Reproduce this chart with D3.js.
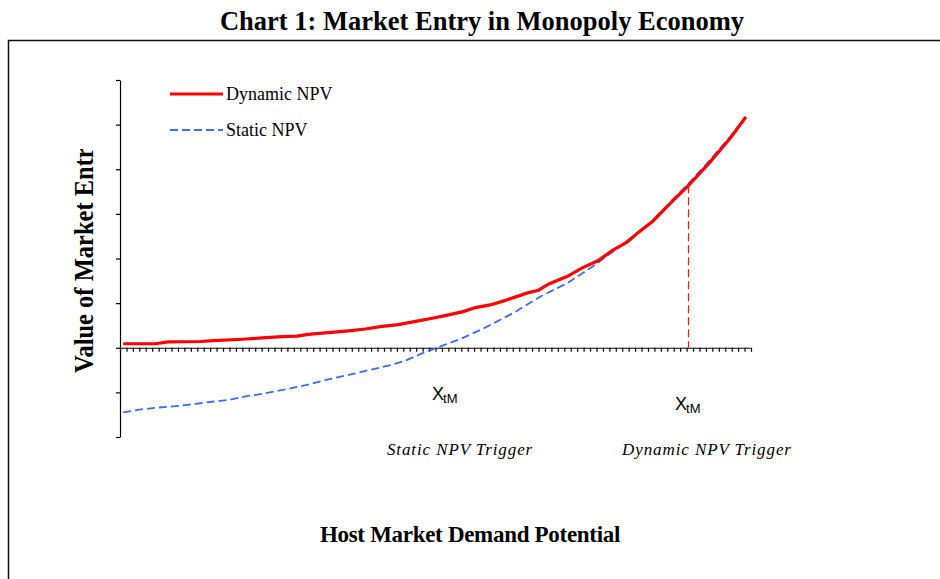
<!DOCTYPE html>
<html>
<head>
<meta charset="utf-8">
<script src="https://cdn.jsdelivr.net/npm/d3@7"></script>
<style>
  body { margin: 0; background: #fff; }
  svg { display: block; }
</style>
</head>
<body>
<svg id="chart" width="940" height="579"></svg>
<script>
// demand categories on the x axis (98 category slots)
var categoryCount = 98;

// dynamic NPV: [category, value]
var dynamicNPV = [
  [1, 0.09], [6, 0.09], [8, 0.13], [13, 0.14], [15, 0.16], [19.5, 0.19],
  [22.6, 0.22], [25.7, 0.25], [28, 0.26], [29.7, 0.30], [32.8, 0.34],
  [36, 0.38], [38.6, 0.42], [41.2, 0.48], [43.7, 0.52], [46.4, 0.59],
  [49, 0.66], [51, 0.72], [53.8, 0.81], [55.7, 0.90], [58, 0.96],
  [60.1, 1.05], [63.8, 1.23], [65.5, 1.29], [67.1, 1.43], [70, 1.60],
  [72.3, 1.79], [74.7, 1.95], [77, 2.18], [79.3, 2.37], [80.9, 2.57],
  [83.2, 2.83], [86, 3.24], [88.8, 3.64], [91.9, 4.12], [95.3, 4.70],
  [97.7, 5.17]
];

// static NPV: [category, value]
var staticNPV = [
  [1, -1.45], [3.3, -1.39], [6.4, -1.34], [9.1, -1.31], [12.2, -1.26],
  [14.8, -1.21], [17.3, -1.17], [20.4, -1.08], [23.1, -1.02], [26.6, -0.92],
  [29.3, -0.84], [32.8, -0.71], [36, -0.61], [38.6, -0.52], [42.2, -0.40],
  [44.8, -0.29], [47.5, -0.12], [49, -0.04], [51, 0.07], [53.1, 0.18],
  [56.5, 0.40], [61.6, 0.78], [65.8, 1.15], [70, 1.45], [74.1, 1.84],
  [77.2, 2.17], [79.8, 2.46], [83.2, 2.84], [86, 3.27], [88.8, 3.68],
  [91.9, 4.17], [95.3, 4.74], [97.7, 5.17]
];

// y ticks (no labels shown in the original)
var yTicks = [-2, -1, 0, 1, 2, 3, 4, 5, 6];

// trigger points
var dynamicTrigger = 88.8;
var staticTrigger = 48.8;

var serif = '"Liberation Serif", "Times New Roman", serif';
var svg = d3.select('#chart');

var x = d3.scaleLinear()
  .domain([0.5, categoryCount + 0.5])
  .range([120, 751]);

var y = d3.scaleLinear()
  .domain([-2, 6])
  .range([437, 80]);

// outer frame
svg.append('rect')
  .attr('x', 8.5)
  .attr('y', 40.5)
  .attr('width', 960)
  .attr('height', 560)
  .attr('fill', 'none')
  .attr('stroke', '#111')
  .attr('stroke-width', 1.5);

// title
svg.append('text')
  .attr('x', 482)
  .attr('y', 30)
  .attr('text-anchor', 'middle')
  .attr('font-family', serif)
  .attr('font-weight', 'bold')
  .attr('font-size', '26.5px')
  .text('Chart 1: Market Entry in Monopoly Economy');

// y axis
svg.append('g')
  .attr('transform', 'translate(120,0)')
  .call(d3.axisLeft(y)
    .tickValues(yTicks)
    .tickSize(4)
    .tickSizeOuter(0)
    .tickFormat(''))
  .call(g => g.selectAll('line, path').attr('stroke', '#000').attr('stroke-width', 1.2));

// x axis on the zero line, ticks between categories
svg.append('g')
  .attr('transform', 'translate(0,' + y(0) + ')')
  .call(d3.axisBottom(x)
    .tickValues(d3.range(0.5, categoryCount + 1, 1))
    .tickSize(4)
    .tickSizeOuter(0)
    .tickFormat(''))
  .call(g => g.selectAll('line, path').attr('stroke', '#000').attr('stroke-width', 1.2));

var line = d3.line()
  .x(function(d) { return x(d[0]); })
  .y(function(d) { return y(d[1]); });

svg.append('path')
  .datum(staticNPV)
  .attr('d', line)
  .attr('fill', 'none')
  .attr('stroke', '#3a6cf4')
  .attr('stroke-width', 1.8)
  .attr('stroke-dasharray', '8,4');

svg.append('path')
  .datum(dynamicNPV)
  .attr('d', line)
  .attr('fill', 'none')
  .attr('stroke', '#ff0000')
  .attr('stroke-width', 3.2);

// dynamic trigger drop line
svg.append('line')
  .attr('x1', x(dynamicTrigger))
  .attr('x2', x(dynamicTrigger))
  .attr('y1', y(3.64))
  .attr('y2', y(0))
  .attr('stroke', '#e02020')
  .attr('stroke-width', 1.3)
  .attr('stroke-dasharray', '8,4');

// X_tM labels
function xLabel(lx, ly) {
  var t = svg.append('text')
    .attr('x', lx)
    .attr('y', ly)
    .attr('font-family', '"Liberation Sans", Arial, sans-serif')
    .attr('font-size', '18px');
  t.append('tspan').text('X');
  t.append('tspan')
    .attr('font-size', '13px')
    .attr('dx', -1)
    .attr('dy', 3)
    .text('tM');
}
xLabel(432, 400);
xLabel(675, 410);

// trigger captions
svg.append('text')
  .attr('x', 460)
  .attr('y', 455)
  .attr('text-anchor', 'middle')
  .attr('font-family', serif)
  .attr('font-style', 'italic')
  .attr('font-size', '17px')
  .attr('letter-spacing', '0.9px')
  .text('Static NPV Trigger');

svg.append('text')
  .attr('x', 707)
  .attr('y', 455)
  .attr('text-anchor', 'middle')
  .attr('font-family', serif)
  .attr('font-style', 'italic')
  .attr('font-size', '17px')
  .attr('letter-spacing', '0.9px')
  .text('Dynamic NPV Trigger');

// axis titles
svg.append('text')
  .attr('x', 470)
  .attr('y', 542)
  .attr('text-anchor', 'middle')
  .attr('font-family', serif)
  .attr('font-weight', 'bold')
  .attr('font-size', '23px')
  .attr('letter-spacing', '-0.3px')
  .text('Host Market Demand Potential');

svg.append('clipPath')
  .attr('id', 'yclip')
  .append('rect')
  .attr('x', 60)
  .attr('y', 149)
  .attr('width', 50)
  .attr('height', 240);

svg.append('g')
  .attr('clip-path', 'url(#yclip)')
  .append('text')
  .attr('transform', 'translate(93,373) rotate(-90) scale(1,1.1)')
  .attr('font-family', serif)
  .attr('font-weight', 'bold')
  .attr('font-size', '24.5px')
  .text('Value of Market  Entry');

// legend
var legend = [
  {name: 'Dynamic NPV', color: '#ff0000', width: 3.2, dash: null, y: 94},
  {name: 'Static NPV', color: '#3a6cf4', width: 1.8, dash: '8,4', y: 130}
];

legend.forEach(function(d) {
  svg.append('line')
    .attr('x1', 170)
    .attr('x2', 223)
    .attr('y1', d.y)
    .attr('y2', d.y)
    .attr('stroke', d.color)
    .attr('stroke-width', d.width)
    .attr('stroke-dasharray', d.dash);
  svg.append('text')
    .attr('x', 226)
    .attr('y', d.y + 6)
    .attr('font-family', serif)
    .attr('font-size', '18px')
    .text(d.name);
});
</script>
</body>
</html>
